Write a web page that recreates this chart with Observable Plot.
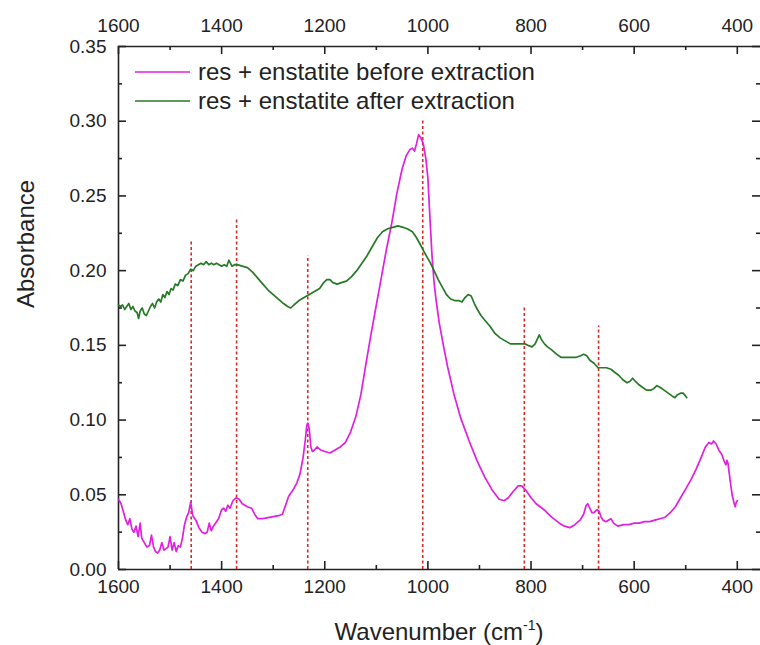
<!DOCTYPE html>
<html>
<head>
<meta charset="utf-8">
<script src="https://cdn.jsdelivr.net/npm/d3@7"></script>
<script src="https://cdn.jsdelivr.net/npm/@observablehq/plot@0.6"></script>
<style>
  html, body { margin: 0; padding: 0; background: #fff; }
  #chart svg { display: block; }
</style>
</head>
<body>
<div id="chart"></div>
<script>
// ---------- data ----------
const seriesNames = ["res + enstatite before extraction", "res + enstatite after extraction"];
const seriesColors = ["#e020e0", "#267a26"];

// [wavenumber, absorbance]
const beforeExtraction = [
  [1600,.047],[1595,.044],[1590,.038],[1586,.033],[1582,.030],[1578,.034],[1574,.027],[1570,.025],[1566,.029],[1562,.022],
  [1558,.031],[1555,.021],[1550,.018],[1545,.015],[1540,.016],[1536,.023],[1532,.015],[1528,.012],[1524,.011],[1520,.013],
  [1516,.018],[1512,.013],[1508,.014],[1504,.015],[1500,.022],[1496,.013],[1492,.018],[1488,.012],[1484,.016],[1480,.015],
  [1476,.021],[1472,.030],[1468,.035],[1464,.038],[1460,.045],[1456,.036],[1450,.033],[1444,.028],[1438,.025],[1432,.024],
  [1428,.025],[1424,.031],[1420,.026],[1416,.029],[1412,.031],[1406,.034],[1400,.040],[1396,.041],[1392,.039],[1388,.043],
  [1384,.041],[1378,.046],[1372,.048],[1366,.047],[1360,.044],[1350,.042],[1342,.041],[1336,.037],[1330,.034],[1320,.034],
  [1305,.035],[1290,.036],[1282,.037],[1276,.043],[1270,.049],[1262,.053],[1254,.058],[1248,.064],[1242,.075],[1238,.086],
  [1235,.096],[1233,.098],[1230,.094],[1227,.082],[1224,.079],[1220,.080],[1215,.082],[1208,.080],[1200,.079],[1190,.078],
  [1180,.080],[1170,.082],[1160,.085],[1150,.092],[1140,.102],[1130,.117],[1120,.138],[1110,.158],[1100,.177],[1090,.196],
  [1080,.215],[1070,.232],[1060,.252],[1050,.268],[1042,.277],[1035,.281],[1030,.282],[1026,.280],[1022,.285],[1018,.291],
  [1014,.289],[1009,.285],[1004,.275],[1000,.262],[996,.235],[992,.210],[988,.192],[984,.180],[978,.165],[970,.150],
  [962,.136],[950,.118],[937,.102],[920,.086],[905,.073],[890,.062],[875,.053],[862,.047],[852,.046],[844,.048],
  [835,.052],[825,.056],[818,.056],[810,.053],[800,.048],[790,.044],[775,.040],[760,.035],[745,.031],[735,.029],
  [725,.028],[715,.030],[705,.033],[698,.037],[693,.043],[690,.044],[686,.041],[682,.038],[678,.038],[672,.040],
  [668,.039],[664,.035],[660,.033],[655,.032],[650,.033],[645,.034],[640,.031],[632,.029],[620,.030],[610,.030],
  [600,.031],[590,.031],[580,.032],[570,.032],[560,.033],[550,.034],[540,.035],[530,.038],[520,.042],[510,.048],
  [500,.054],[490,.060],[480,.067],[470,.075],[462,.082],[455,.085],[450,.084],[446,.086],[441,.084],[436,.080],
  [430,.077],[425,.072],[422,.070],[420,.073],[418,.071],[414,.060],[410,.050],[406,.044],[404,.042],[402,.045],[400,.046]
];

const afterExtraction = [
  [1600,.177],[1596,.176],[1592,.177],[1588,.174],[1584,.176],[1580,.178],[1576,.174],[1572,.176],[1568,.173],[1564,.172],
  [1561,.168],[1558,.173],[1554,.175],[1550,.171],[1546,.170],[1542,.173],[1538,.176],[1534,.178],[1530,.175],[1526,.179],
  [1522,.181],[1518,.179],[1514,.184],[1510,.182],[1506,.186],[1502,.184],[1498,.188],[1494,.187],[1490,.191],[1485,.190],
  [1480,.194],[1475,.193],[1470,.197],[1465,.198],[1460,.201],[1455,.200],[1450,.203],[1445,.204],[1440,.205],[1435,.204],
  [1430,.206],[1425,.204],[1420,.205],[1415,.204],[1410,.205],[1405,.204],[1400,.203],[1395,.204],[1390,.203],[1386,.207],
  [1383,.205],[1380,.203],[1375,.204],[1370,.204],[1360,.203],[1350,.202],[1340,.199],[1330,.195],[1320,.191],[1310,.187],
  [1300,.184],[1290,.181],[1280,.178],[1272,.176],[1266,.175],[1260,.177],[1250,.180],[1240,.182],[1230,.184],[1220,.186],
  [1210,.188],[1202,.192],[1196,.194],[1190,.194],[1184,.192],[1176,.191],[1168,.192],[1158,.193],[1148,.196],[1138,.200],
  [1128,.205],[1118,.210],[1108,.216],[1098,.222],[1088,.226],[1078,.228],[1068,.229],[1058,.230],[1048,.229],[1040,.228],
  [1030,.226],[1022,.222],[1014,.217],[1008,.213],[1000,.208],[995,.205],[988,.200],[980,.194],[972,.189],[964,.184],
  [956,.181],[948,.180],[940,.180],[934,.179],[928,.182],[922,.184],[916,.183],[910,.178],[904,.174],[897,.170],
  [890,.167],[880,.163],[870,.158],[860,.155],[850,.153],[840,.151],[830,.151],[820,.151],[812,.151],[806,.150],
  [798,.149],[792,.151],[788,.154],[784,.157],[780,.154],[774,.151],[768,.149],[760,.147],[750,.144],[742,.142],
  [732,.142],[722,.142],[712,.142],[704,.143],[698,.144],[692,.143],[686,.140],[678,.138],[670,.135],[662,.135],
  [654,.135],[645,.134],[638,.132],[630,.130],[622,.127],[614,.125],[608,.126],[603,.128],[598,.126],[592,.124],
  [584,.122],[576,.120],[568,.120],[562,.121],[556,.123],[550,.122],[542,.120],[534,.118],[526,.116],[521,.115],
  [516,.117],[510,.118],[505,.118],[500,.116],[498,.115]
];

// reference peak markers: [wavenumber, top of dashed line]
const peakMarkers = [[1459,.220],[1371,.234],[1233,.210],[1010,.301],[813,.176],[669,.163]];

const xDomain = [1600, 355];
const yDomain = [0, 0.35];
const xMajorTicks = [1600, 1400, 1200, 1000, 800, 600, 400];
const xMinorTicks = [1500, 1300, 1100, 900, 700, 500];
const yMajorTicks = [0, 0.05, 0.10, 0.15, 0.20, 0.25, 0.30, 0.35];
const yMinorTicks = [0.025, 0.075, 0.125, 0.175, 0.225, 0.275, 0.325];
const xTitle = "Wavenumber (cm";
const xTitleSup = "-1";
const yTitle = "Absorbance";

// ---------- chart ----------
const font = "'Liberation Sans', Arial, Helvetica, sans-serif";
const W = 760, H = 645, mT = 46, mB = 76, mL = 118, mR = 0;
const frameW = W - mL - mR, frameH = H - mT - mB;
const major = 8, minor = 4;
const ink = "#222";
const rows = [
  ...beforeExtraction.map(([x, y]) => ({x, y, s: seriesNames[0]})),
  ...afterExtraction.map(([x, y]) => ({x, y, s: seriesNames[1]}))
];

const tickStyle = {stroke: ink, strokeWidth: 1.6};

const chart = Plot.plot({
  width: W,
  height: H,
  marginTop: mT,
  marginBottom: mB,
  marginLeft: mL,
  marginRight: mR,
  style: {fontFamily: font, fontSize: "19px", color: ink, background: "#fff"},
  x: {domain: xDomain, label: null},
  y: {domain: yDomain, label: null},
  color: {domain: seriesNames, range: seriesColors},
  marks: [
    // frame lines (from domain ends)
    Plot.ruleY([yDomain[0], yDomain[1]], {...tickStyle}),
    Plot.ruleX([xDomain[0]], {...tickStyle}),
    // inward ticks: bottom / top
    Plot.ruleX(xMajorTicks, {x: d => d, insetTop: frameH - major, ...tickStyle}),
    Plot.ruleX(xMinorTicks, {x: d => d, insetTop: frameH - minor, ...tickStyle}),
    Plot.ruleX(xMajorTicks, {x: d => d, insetBottom: frameH - major, ...tickStyle}),
    Plot.ruleX(xMinorTicks, {x: d => d, insetBottom: frameH - minor, ...tickStyle}),
    // inward ticks: left / right
    Plot.ruleY(yMajorTicks, {y: d => d, insetRight: frameW - major, ...tickStyle}),
    Plot.ruleY(yMinorTicks, {y: d => d, insetRight: frameW - minor, ...tickStyle}),
    Plot.ruleY(yMajorTicks, {y: d => d, insetLeft: frameW - major, ...tickStyle}),
    Plot.ruleY(yMinorTicks, {y: d => d, insetLeft: frameW - minor, ...tickStyle}),
    // tick labels
    Plot.axisX({anchor: "bottom", ticks: xMajorTicks, tickSize: 0, tickPadding: 10, tickFormat: d => String(d), label: null}),
    Plot.axisX({anchor: "top", ticks: xMajorTicks, tickSize: 0, tickPadding: 15, tickFormat: d => String(d), label: null}),
    Plot.axisY({anchor: "left", ticks: yMajorTicks, tickSize: 0, tickPadding: 12, tickFormat: d => d.toFixed(2), label: null}),
    // peak markers
    Plot.ruleX(peakMarkers, {x: d => d[0], y1: 0, y2: d => d[1], stroke: "#d42a2a", strokeWidth: 1.6, strokeDasharray: "3,2.5"}),
    // spectra
    Plot.line(rows, {x: "x", y: "y", z: "s", stroke: "s", strokeWidth: 1.7}),
    // y title
    Plot.text([yTitle], {text: d => d, frameAnchor: "left", dx: -92, rotate: -90, fontSize: 24, fill: ink})
  ]
});

const svg = d3.select(chart.tagName.toLowerCase() === "svg" ? chart : chart.querySelector("svg"));

// x title with superscript
const xt = svg.append("text")
  .attr("x", mL + frameW / 2).attr("y", 640)
  .attr("text-anchor", "middle")
  .attr("font-size", 24)
  .attr("font-family", font)
  .attr("fill", ink);
xt.append("tspan").text(xTitle);
xt.append("tspan").attr("font-size", 14).attr("dy", -10).text(xTitleSup);
xt.append("tspan").attr("dy", 10).text(")");

// legend
const lg = svg.append("g").attr("font-family", font).attr("font-size", 24).attr("fill", ink)
  .attr("text-anchor", "start");
seriesNames.forEach((name, i) => {
  const y = 72 + i * 29;
  lg.append("line").attr("x1", 135).attr("x2", 190).attr("y1", y).attr("y2", y)
    .attr("stroke", seriesColors[i]).attr("stroke-width", 1.7);
  lg.append("text").attr("x", 198).attr("y", y).attr("dy", "0.35em").text(name);
});

document.getElementById("chart").appendChild(chart);
</script>
</body>
</html>
